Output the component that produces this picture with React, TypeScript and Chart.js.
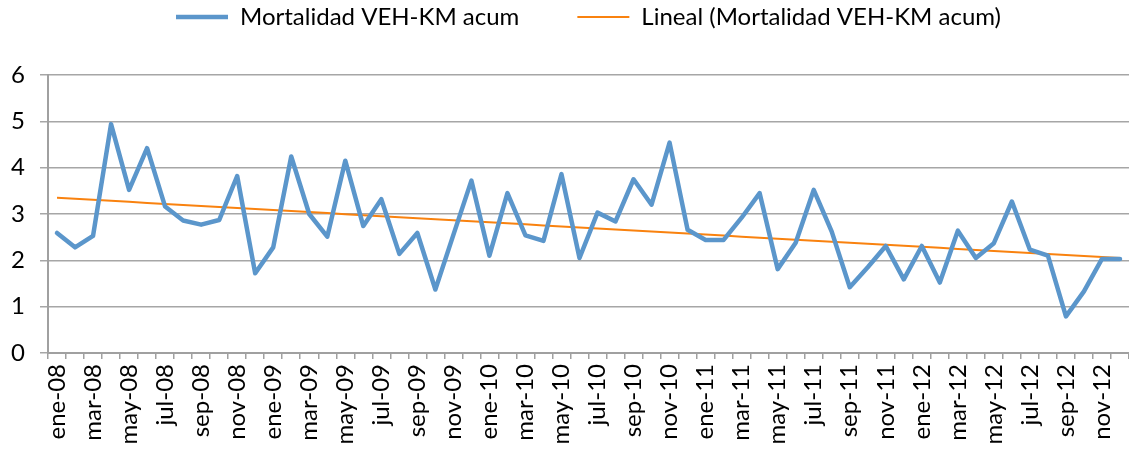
import React, { useEffect, useRef } from "react";
import { Chart, registerables } from "chart.js";

Chart.register(...registerables);

const months = ["ene", "feb", "mar", "abr", "may", "jun", "jul", "ago", "sep", "oct", "nov", "dic"];
const years = ["08", "09", "10", "11", "12"];
const categories: string[] = years.flatMap((y) => months.map((m) => `${m}-${y}`));

const mortalidad: number[] = [
  2.59, 2.28, 2.53, 4.94, 3.52, 4.42, 3.16, 2.86, 2.77, 2.87, 3.82, 1.72,
  2.28, 4.24, 3.0, 2.51, 4.15, 2.74, 3.32, 2.14, 2.59, 1.37, 2.55, 3.72,
  2.1, 3.45, 2.54, 2.42, 3.86, 2.05, 3.03, 2.84, 3.75, 3.2, 4.54, 2.66,
  2.44, 2.44, 2.92, 3.45, 1.81, 2.38, 3.52, 2.62, 1.42, 1.85, 2.31, 1.59,
  2.31, 1.52, 2.64, 2.05, 2.37, 3.27, 2.23, 2.1, 0.79, 1.33, 2.03, 2.03,
];

const yTicks = [0, 1, 2, 3, 4, 5, 6];
const seriesNames = ["Mortalidad VEH-KM acum", "Lineal (Mortalidad VEH-KM acum)"];

// linear trend (least squares) of the series
function linearTrend(vals: number[]): number[] {
  const n = vals.length;
  let sx = 0, sy = 0, sxx = 0, sxy = 0;
  vals.forEach((v, i) => {
    const x = i + 1;
    sx += x; sy += v; sxx += x * x; sxy += x * v;
  });
  const b = (n * sxy - sx * sy) / (n * sxx - sx * sx);
  const a = (sy - b * sx) / n;
  return vals.map((_, i) => a + b * (i + 1));
}

const FONT = "Lato, 'Open Sans', sans-serif";
const LEGEND_FONT = 24;
const LEGEND_GAP = 58;

export default function App() {
  const ref = useRef<HTMLCanvasElement | null>(null);

  useEffect(() => {
    document.body.style.margin = "0";
    const canvas = ref.current;
    if (!canvas) return;
    const trend = linearTrend(mortalidad);

    const legendTop = 17 - LEGEND_FONT / 2 - LEGEND_GAP;

    const legendPatch = {
      id: "legendPatch",
      beforeLayout(chart: any) {
        const lg = chart.legend;
        if (lg && !lg.__patched) {
          const orig = lg.fit;
          lg.fit = function () {
            orig.call(this);
            this.height = 75 - legendTop;
          };
          lg.__patched = true;
        }
      },
    };

    const chart = new Chart(canvas, {
      type: "line",
      data: {
        labels: categories,
        datasets: [
          {
            label: seriesNames[0],
            data: mortalidad,
            borderColor: "#5B96CB",
            backgroundColor: "#5B96CB",
            borderWidth: 4.5,
            pointRadius: 0,
            tension: 0,
            borderJoinStyle: "round",
            borderCapStyle: "round",
          },
          {
            label: seriesNames[1],
            data: trend,
            borderColor: "#F9820F",
            backgroundColor: "#F9820F",
            borderWidth: 2,
            pointRadius: 0,
            tension: 0,
          },
        ],
      },
      options: {
        animation: false,
        responsive: false,
        layout: { padding: { top: legendTop, left: 0, right: 0, bottom: 0 } },
        plugins: {
          tooltip: { enabled: false },
          legend: {
            position: "top",
            fullSize: false,
            labels: {
              usePointStyle: true,
              pointStyleWidth: 52,
              boxHeight: LEGEND_FONT,
              padding: LEGEND_GAP,
              color: "#000",
              font: { family: FONT, size: LEGEND_FONT },
              generateLabels: (ch: any) =>
                ch.data.datasets.map((ds: any, i: number) => ({
                  text: ds.label,
                  fillStyle: ds.borderColor,
                  strokeStyle: ds.borderColor,
                  lineWidth: i === 0 ? 4.5 : 2,
                  pointStyle: "line",
                  hidden: false,
                  datasetIndex: i,
                })),
            },
          },
        },
        scales: {
          x: {
            type: "category",
            offset: true,
            grid: {
              offset: true,
              drawOnChartArea: false,
              drawTicks: true,
              tickLength: 6,
              color: "#A0A0A0",
              lineWidth: 1.5,
            },
            border: { color: "#A0A0A0", width: 2 },
            ticks: {
              autoSkip: false,
              minRotation: 90,
              maxRotation: 90,
              padding: 5,
              color: "#000",
              font: { family: FONT, size: 24 },
              callback: (_v: any, i: number) => (i % 2 === 0 ? categories[i] : ""),
            },
            afterFit: (scale: any) => {
              scale.height = 100;
              scale.paddingLeft = 0;
              scale.paddingRight = 0;
            },
          },
          y: {
            min: 0,
            max: 6,
            afterBuildTicks: (scale: any) => {
              scale.ticks = yTicks.map((v) => ({ value: v }));
            },
            grid: {
              color: "#A6A6A6",
              lineWidth: 1.5,
              tickLength: 8,
              drawTicks: true,
            },
            border: { color: "#A0A0A0", width: 2 },
            ticks: {
              padding: 15,
              color: "#000",
              font: { family: FONT, size: 24 },
            },
            afterFit: (scale: any) => {
              scale.width = 48;
              scale.paddingTop = 0;
              scale.paddingBottom = 0;
            },
          },
        },
      },
      plugins: [legendPatch],
    });

    return () => chart.destroy();
  }, []);

  return (
    <div style={{ position: "fixed", left: 0, top: 0, width: 1129, height: 453, background: "#fff" }}>
      <canvas ref={ref} width={1129} height={453} style={{ width: 1129, height: 453 }} />
    </div>
  );
}
